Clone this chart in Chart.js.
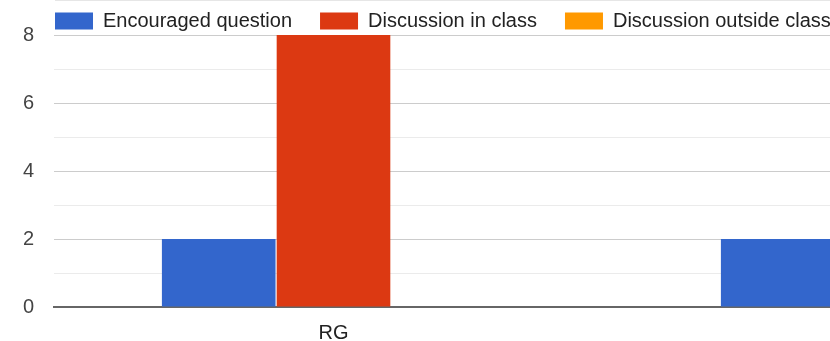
<!DOCTYPE html>
<html>
<head>
<meta charset="utf-8">
<script src="https://cdn.jsdelivr.net/npm/chart.js@4/dist/chart.umd.min.js"></script>
<style>
  html, body { margin: 0; padding: 0; background: #fff; }
  body { width: 830px; height: 341px; overflow: hidden; position: relative; }
  #topLine { position: absolute; left: 55px; right: 0; top: 0; border-top: 1px solid #e6e6e6; }
  #chartContainer { position: absolute; left: 0; top: -17px; width: 1180px; height: 358px; }
</style>
</head>
<body>
<div id="topLine"></div>
<div id="chartContainer"><canvas id="barChart"></canvas></div>
<script>
// second category is cut off at the right edge of the picture
var categories = ['RG', ''];
var encouragedQuestion = [2, 2];
var discussionInClass = [8, 0];
var discussionOutsideClass = [0, 0];
var yTicks = [0, 2, 4, 6, 8];

var fontFamily = "Arial, 'Liberation Sans', sans-serif";

// y labels get clipped to the scale box, so widen it after layout
var widenYAxis = {
  id: 'widenYAxis',
  afterLayout: function (chart) {
    chart.scales.y.left = 0;
  },
};

var ctx = document.getElementById('barChart').getContext('2d');
var barChart = new Chart(ctx, {
  type: 'bar',
  plugins: [widenYAxis],
  data: {
    labels: categories,
    datasets: [
      {
        label: 'Encouraged question',
        backgroundColor: '#3366cc',
        data: encouragedQuestion,
      },
      {
        label: 'Discussion in class',
        backgroundColor: '#dc3912',
        data: discussionInClass,
      },
      {
        label: 'Discussion outside class',
        backgroundColor: '#ff9900',
        data: discussionOutsideClass,
      },
    ],
  },
  options: {
    responsive: true,
    maintainAspectRatio: false,
    animation: false,
    datasets: {
      bar: {
        categoryPercentage: 0.616,
        barPercentage: 0.99,
        borderWidth: 0,
      },
    },
    layout: {
      padding: { left: 27, right: 8, top: 0, bottom: 0 },
    },
    plugins: {
      tooltip: { enabled: false },
      legend: {
        position: 'top',
        align: 'start',
        maxHeight: 52,
        labels: {
          boxWidth: 38,
          boxHeight: 17,
          padding: 28,
          color: '#222',
          font: { family: fontFamily, size: 20 },
        },
      },
    },
    scales: {
      x: {
        grid: { display: false },
        border: { color: '#666', width: 2 },
        ticks: {
          color: '#222',
          padding: 6,
          font: { family: fontFamily, size: 20 },
        },
        afterFit: function (scale) {
          scale.height = 34;
        },
      },
      y: {
        min: 0,
        max: 8,
        border: { display: false },
        grid: {
          drawTicks: false,
          color: function (c) {
            return yTicks.indexOf(c.tick.value) >= 0 ? '#cccccc' : '#ebebeb';
          },
        },
        ticks: {
          stepSize: 1,
          autoSkip: false,
          padding: 20,
          color: '#444',
          font: { family: fontFamily, size: 20 },
          callback: function (value) {
            return yTicks.indexOf(value) >= 0 ? String(value) : '';
          },
        },
        afterFit: function (scale) {
          scale.width = 27;
        },
      },
    },
  },
});
</script>
</body>
</html>
